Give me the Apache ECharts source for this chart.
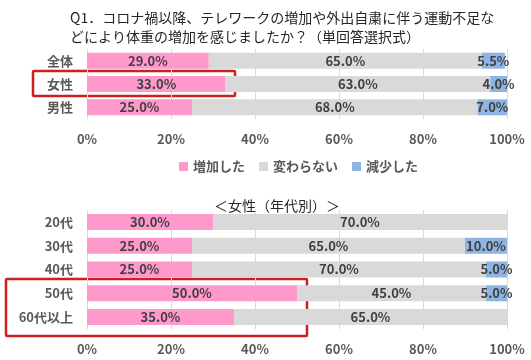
<!DOCTYPE html>
<html><head><meta charset="utf-8">
<script src="https://cdn.jsdelivr.net/npm/echarts@6/dist/echarts.min.js"></script>
<style>html,body{margin:0;padding:0;background:#fff}#c{width:531px;height:360px}</style>
</head><body><div id="c"></div>
<script>
const titleText = 'Q1．コロナ禍以降、テレワークの増加や外出自粛に伴う運動不足な\nどにより体重の増加を感じましたか？（単回答選択式）';
const subTitle = '＜女性（年代別）＞';
const seriesNames = ['増加した', '変わらない', '減少した'];
const colors = ['#FF99CC', '#D9D9D9', '#8DB4E2'];

const topCats = ['全体', '女性', '男性'];
const topIncreased = [29.0, 33.0, 25.0];
const topSame = [65.0, 63.0, 68.0];
const topDecreased = [5.5, 4.0, 7.0];

const botCats = ['20代', '30代', '40代', '50代', '60代以上'];
const botIncreased = [30.0, 25.0, 25.0, 50.0, 35.0];
const botSame = [70.0, 65.0, 70.0, 45.0, 65.0];
const botDecreased = [0, 10.0, 5.0, 5.0, 0];

const tickValues = [0, 20, 40, 60, 80, 100];

const FONT = '"Noto Sans CJK JP", "Noto Sans", sans-serif';
const chart = echarts.init(document.getElementById('c'), null, {renderer: 'canvas'});

function xAx(gi) {
  return {
    type: 'value', gridIndex: gi, min: tickValues[0], max: tickValues[tickValues.length-1], interval: 20,
    axisLine: {show: false}, axisTick: {show: false},
    splitLine: {show: true, lineStyle: {color: '#D9D9D9', width: 1}},
    axisLabel: {formatter: v => v + '%', color: '#595959', fontWeight: 'bold', fontSize: 13, fontFamily: FONT, margin: 14}
  };
}
function yAx(gi, cats) {
  return {
    type: 'category', gridIndex: gi, data: cats, inverse: true,
    axisLine: {show: false}, axisTick: {show: false}, splitLine: {show: false},
    axisLabel: {color: '#595959', fontWeight: 'bold', fontSize: 13, fontFamily: FONT, margin: 14}
  };
}
function mk(name, data, gi, ci, stack) {
  return {
    type: 'bar', name: name, data: data, stack: stack, xAxisIndex: gi, yAxisIndex: gi,
    barWidth: 16, itemStyle: {color: colors[ci]},
    label: {show: true, position: 'inside', color: '#404040', fontWeight: 'bold', fontSize: 13, fontFamily: FONT,
      formatter: p => p.value ? p.value.toFixed(1) + '%' : ''},
    emphasis: {disabled: true}, animation: false
  };
}

chart.setOption({
  animation: false,
  textStyle: {fontFamily: FONT},
  title: [
    {text: titleText, left: 65, top: 3, textStyle: {fontSize: 14, fontWeight: 'normal', color: '#262626', lineHeight: 19, fontFamily: FONT}},
    {text: subTitle, left: 209, top: 194, textStyle: {fontSize: 14, fontWeight: 'normal', color: '#262626', fontFamily: FONT}}
  ],
  legend: {
    data: seriesNames, left: 174, top: 155, icon: 'rect', itemWidth: 9, itemHeight: 9, itemGap: 14,
    textStyle: {color: '#595959', fontWeight: 'bold', fontSize: 13, fontFamily: FONT}, selectedMode: false
  },
  grid: [
    {left: 87, right: 24, top: 49, height: 70},
    {left: 87, right: 24, top: 210, height: 119}
  ],
  xAxis: [xAx(0), xAx(1)],
  yAxis: [yAx(0, topCats), yAx(1, botCats)],
  series: [
    mk(seriesNames[0], topIncreased, 0, 0, 't'),
    mk(seriesNames[1], topSame, 0, 1, 't'),
    mk(seriesNames[2], topDecreased, 0, 2, 't'),
    mk(seriesNames[0], botIncreased, 1, 0, 'b'),
    mk(seriesNames[1], botSame, 1, 1, 'b'),
    mk(seriesNames[2], botDecreased, 1, 2, 'b')
  ],
  graphic: [
    {type: 'rect', shape: {x: 33, y: 71, width: 202, height: 25, r: 1}, style: {fill: 'none', stroke: '#CC1F1F', lineWidth: 2.5}},
    {type: 'rect', shape: {x: 6, y: 279, width: 301, height: 57, r: 1}, style: {fill: 'none', stroke: '#CC1F1F', lineWidth: 2.5}}
  ]
});
</script></body></html>
